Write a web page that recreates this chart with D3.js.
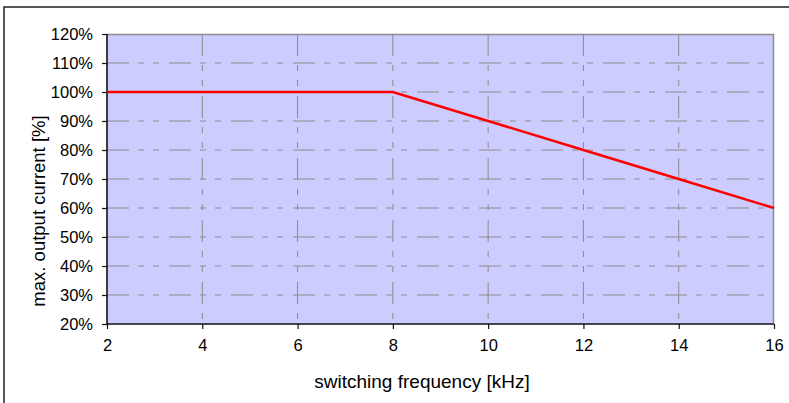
<!DOCTYPE html>
<html>
<head>
<meta charset="utf-8">
<title>Derating Curve</title>
<script src="https://d3js.org/d3.v7.min.js"></script>
<style>
  body { margin: 0; background: #fff; }
  svg { display: block; font-family: "Liberation Sans", Arial, Helvetica, sans-serif; }
  .grid line { stroke: #8c8c8c; stroke-width: 1; stroke-dasharray: 22,9,6,9,6,10; }
</style>
</head>
<body>
<svg width="789" height="403"></svg>
<script>
// data
var freqKHz = [2, 4, 6, 8, 10, 12, 14, 16];
var maxCurrent = [100, 100, 100, 100, 90, 80, 70, 60];
var xTicks = [2, 4, 6, 8, 10, 12, 14, 16];
var yTicks = [20, 30, 40, 50, 60, 70, 80, 90, 100, 110, 120];

var svg = d3.select("svg"),
    margin = {left: 107, top: 34, right: 15, bottom: 79},
    width = +svg.attr("width") - margin.left - margin.right,
    height = +svg.attr("height") - margin.top - margin.bottom;

// outer frame (runs off the right and bottom edge)
svg.append("rect")
    .attr("x", 4).attr("y", 7)
    .attr("width", 800).attr("height", 420)
    .attr("fill", "none")
    .attr("stroke", "#222")
    .attr("stroke-width", 1.5);

var x = d3.scaleLinear().domain([2, 16]).range([0, width]);
var y = d3.scaleLinear().domain([20, 120]).range([height, 0]);

var g = svg.append("g")
    .attr("transform", "translate(" + margin.left + "," + margin.top + ")");

g.append("rect")
    .attr("width", width)
    .attr("height", height)
    .attr("fill", "#ccccff");

// grid
g.append("g").attr("class", "grid")
  .selectAll("line")
  .data(yTicks.slice(1, -1))
  .enter().append("line")
    .attr("x1", 0).attr("x2", width)
    .attr("y1", function(d) { return y(d); })
    .attr("y2", function(d) { return y(d); });

g.append("g").attr("class", "grid")
  .selectAll("line")
  .data(xTicks.slice(1, -1))
  .enter().append("line")
    .attr("x1", function(d) { return x(d); })
    .attr("x2", function(d) { return x(d); })
    .attr("y1", 0).attr("y2", height);

// plot border top + right
g.append("path")
    .attr("d", "M0,0.5H" + (width - 0.5) + "V" + height)
    .attr("fill", "none")
    .attr("stroke", "#8c8c8c")
    .attr("stroke-width", 1.5);

// axes
var xAxis = g.append("g")
    .attr("transform", "translate(0," + height + ")")
    .call(d3.axisBottom(x).tickValues(xTicks).tickSize(5).tickPadding(10));
var yAxis = g.append("g")
    .call(d3.axisLeft(y).tickValues(yTicks).tickSize(5).tickPadding(9)
      .tickFormat(function(d) { return d + "%"; }));

[xAxis, yAxis].forEach(function(a) {
  a.select(".domain").attr("stroke", "#111").attr("stroke-width", 1.6);
  a.selectAll(".tick line").attr("stroke", "#111").attr("stroke-width", 1.2);
  a.selectAll("text").attr("fill", "#000").style("font-size", "16.5px")
    .style("font-family", "'Liberation Sans', Arial, sans-serif");
});
xAxis.select(".domain").attr("d", "M0,0H" + width);
yAxis.select(".domain").attr("d", "M0,0V" + height);

// curve
var line = d3.line()
    .x(function(d, i) { return x(freqKHz[i]); })
    .y(function(d) { return y(d); });

g.append("path")
    .datum(maxCurrent)
    .attr("d", line)
    .attr("fill", "none")
    .attr("stroke", "#ff0000")
    .attr("stroke-width", 2.5);

// axis titles
svg.append("text")
    .attr("x", 422)
    .attr("y", 388)
    .attr("text-anchor", "middle")
    .style("font-size", "19px")
    .text("switching frequency [kHz]");

svg.append("text")
    .attr("transform", "translate(45," + 211 + ") rotate(-90)")
    .attr("text-anchor", "middle")
    .style("font-size", "18.5px")
    .text("max. output current [%]");
</script>
</body>
</html>
